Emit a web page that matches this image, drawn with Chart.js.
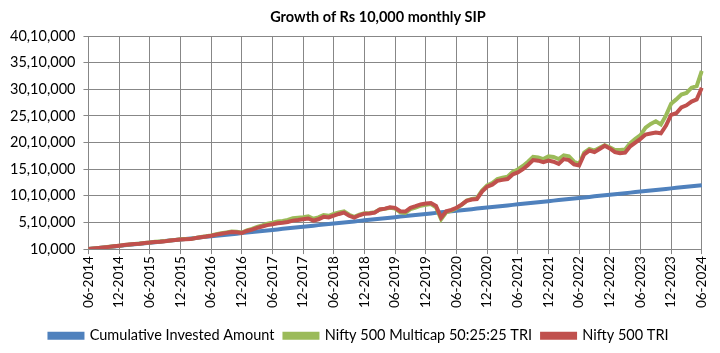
<!DOCTYPE html>
<html>
<head>
<meta charset="utf-8">
<script src="https://cdn.jsdelivr.net/npm/chart.js@4"></script>
<style>
  body { margin: 0; background: #fff; }
  #wrap { width: 720px; height: 353px; }
</style>
</head>
<body>
<div id="wrap"><canvas id="sipChart" width="720" height="353"></canvas></div>
<script>
// month labels, 06-2014 .. 06-2024
const months = [];
for (let y = 2014; y <= 2024; y++) {
    for (let m = 1; m <= 12; m++) {
        if ((y === 2014 && m < 6) || (y === 2024 && m > 6)) continue;
        months.push(String(m).padStart(2, "0") + "-" + y);
    }
}

const invested = [
    10000, 20000, 30000, 40000, 50000, 60000, 70000, 80000, 90000, 100000, 110000, 120000,
    130000, 140000, 150000, 160000, 170000, 180000, 190000, 200000, 210000, 220000, 230000, 240000,
    250000, 260000, 270000, 280000, 290000, 300000, 310000, 320000, 330000, 340000, 350000, 360000,
    370000, 380000, 390000, 400000, 410000, 420000, 430000, 440000, 450000, 460000, 470000, 480000,
    490000, 500000, 510000, 520000, 530000, 540000, 550000, 560000, 570000, 580000, 590000, 600000,
    610000, 620000, 630000, 640000, 650000, 660000, 670000, 680000, 690000, 700000, 710000, 720000,
    730000, 740000, 750000, 760000, 770000, 780000, 790000, 800000, 810000, 820000, 830000, 840000,
    850000, 860000, 870000, 880000, 890000, 900000, 910000, 920000, 930000, 940000, 950000, 960000,
    970000, 980000, 990000, 1000000, 1010000, 1020000, 1030000, 1040000, 1050000, 1060000, 1070000, 1080000,
    1090000, 1100000, 1110000, 1120000, 1130000, 1140000, 1150000, 1160000, 1170000, 1180000, 1190000, 1200000,
    1210000
];

const multicap = [
    10000, 20000, 31000, 42000, 53000, 64000, 75000, 86000, 96000, 106000, 114000, 126000,
    136000, 148000, 153000, 160000, 172000, 183000, 196000, 198000, 200000, 220000, 236000, 250000,
    268000, 290000, 306000, 324000, 340000, 334000, 320000, 360000, 390000, 428000, 455000, 485000,
    505000, 528000, 540000, 558000, 590000, 600000, 610000, 625000, 580000, 605000, 650000, 635000,
    670000, 700000, 720000, 655000, 615000, 655000, 685000, 690000, 700000, 755000, 765000, 785000,
    770000, 700000, 690000, 760000, 790000, 825000, 840000, 855000, 795000, 570000, 700000, 730000,
    775000, 840000, 920000, 950000, 965000, 1110000, 1205000, 1250000, 1325000, 1350000, 1370000, 1460000,
    1505000, 1570000, 1650000, 1740000, 1730000, 1700000, 1750000, 1740000, 1700000, 1770000, 1750000, 1650000,
    1610000, 1820000, 1890000, 1860000, 1910000, 1960000, 1920000, 1870000, 1870000, 1880000, 2000000, 2080000,
    2150000, 2290000, 2360000, 2410000, 2350000, 2520000, 2740000, 2820000, 2910000, 2940000, 3040000, 3070000,
    3355000
];

const nifty500 = [
    10000, 20000, 31000, 41000, 52000, 63000, 73000, 85000, 95000, 105000, 112000, 124000,
    133000, 145000, 150000, 158000, 170000, 180000, 192000, 195000, 198000, 218000, 232000, 245000,
    262000, 282000, 298000, 315000, 330000, 325000, 312000, 350000, 375000, 410000, 435000, 460000,
    476000, 495000, 505000, 520000, 545000, 555000, 570000, 585000, 545000, 570000, 615000, 605000,
    640000, 670000, 695000, 635000, 600000, 645000, 675000, 680000, 695000, 755000, 770000, 795000,
    785000, 720000, 715000, 785000, 815000, 850000, 865000, 875000, 820000, 600000, 720000, 745000,
    785000, 845000, 915000, 940000, 950000, 1090000, 1180000, 1220000, 1290000, 1310000, 1325000, 1410000,
    1450000, 1510000, 1590000, 1680000, 1670000, 1640000, 1670000, 1650000, 1610000, 1700000, 1680000, 1600000,
    1580000, 1790000, 1860000, 1830000, 1890000, 1950000, 1900000, 1830000, 1810000, 1820000, 1940000, 2010000,
    2080000, 2160000, 2180000, 2200000, 2185000, 2330000, 2530000, 2560000, 2670000, 2710000, 2780000, 2820000,
    3040000
];

const yMin = 10000;
const yMax = 4010000;
const yStep = 500000;

// Indian digit grouping: 40,10,000
function inr(n) {
    let s = String(Math.round(n));
    if (s.length <= 3) return s;
    let last3 = s.slice(-3);
    let rest = s.slice(0, -3).replace(/\B(?=(\d{2})+(?!\d))/g, ",");
    return rest + "," + last3;
}

const FONT = "Lato, 'Open Sans', sans-serif";

const titlePlugin = {
    id: "excelTitle",
    afterDraw(chart) {
        const ctx = chart.ctx;
        ctx.save();
        ctx.font = "bold 14.5px " + FONT;
        ctx.fillStyle = "#000";
        ctx.textAlign = "center";
        ctx.textBaseline = "middle";
        ctx.fillText("Growth of Rs 10,000 monthly SIP", chart.width / 2 + 18, 17);
        ctx.restore();
    }
};

new Chart(document.getElementById("sipChart"), {
    type: "line",
    data: {
        labels: months,
        datasets: [
            {
                label: "Nifty 500 TRI",
                data: nifty500,
                borderColor: "#C0504D",
                backgroundColor: "#C0504D"
            },
            {
                label: "Nifty 500 Multicap 50:25:25 TRI",
                data: multicap,
                borderColor: "#9BBB59",
                backgroundColor: "#9BBB59"
            },
            {
                label: "Cumulative Invested Amount",
                data: invested,
                borderColor: "#4F81BD",
                backgroundColor: "#4F81BD"
            }
        ]
    },
    options: {
        responsive: false,
        animation: false,
        layout: { padding: { top: 36, right: 4, left: 2, bottom: 0 } },
        elements: {
            line: { borderWidth: 4, tension: 0 },
            point: { radius: 0 }
        },
        plugins: {
            title: { display: false },
            tooltip: { enabled: false },
            legend: {
                position: "bottom",
                reverse: true,
                // empty title only pushes the legend row down a little
                title: { display: true, text: " ", padding: 0, font: { size: 7 } },
                labels: {
                    boxWidth: 33,
                    boxHeight: 4,
                    padding: 10,
                    color: "#000",
                    font: { family: FONT, size: 14.5 }
                }
            }
        },
        scales: {
            x: {
                grid: { color: "#878787", tickLength: 5, drawTicks: true },
                border: { color: "#878787" },
                afterBuildTicks(scale) {
                    scale.ticks = scale.ticks.filter((t) => t.value % 6 === 0);
                },
                ticks: {
                    autoSkip: false,
                    maxRotation: 90,
                    minRotation: 90,
                    color: "#000",
                    padding: 2,
                    font: { family: FONT, size: 13.5 },
                    callback: function (value) { return this.getLabelForValue(value); }
                }
            },
            y: {
                min: yMin,
                max: yMax,
                grid: { color: "#878787", tickLength: 5 },
                border: { color: "#878787" },
                ticks: {
                    stepSize: yStep,
                    color: "#000",
                    padding: 8,
                    font: { family: FONT, size: 14.5 },
                    callback: (v) => inr(v)
                }
            }
        }
    },
    plugins: [titlePlugin]
});
</script>
</body>
</html>
